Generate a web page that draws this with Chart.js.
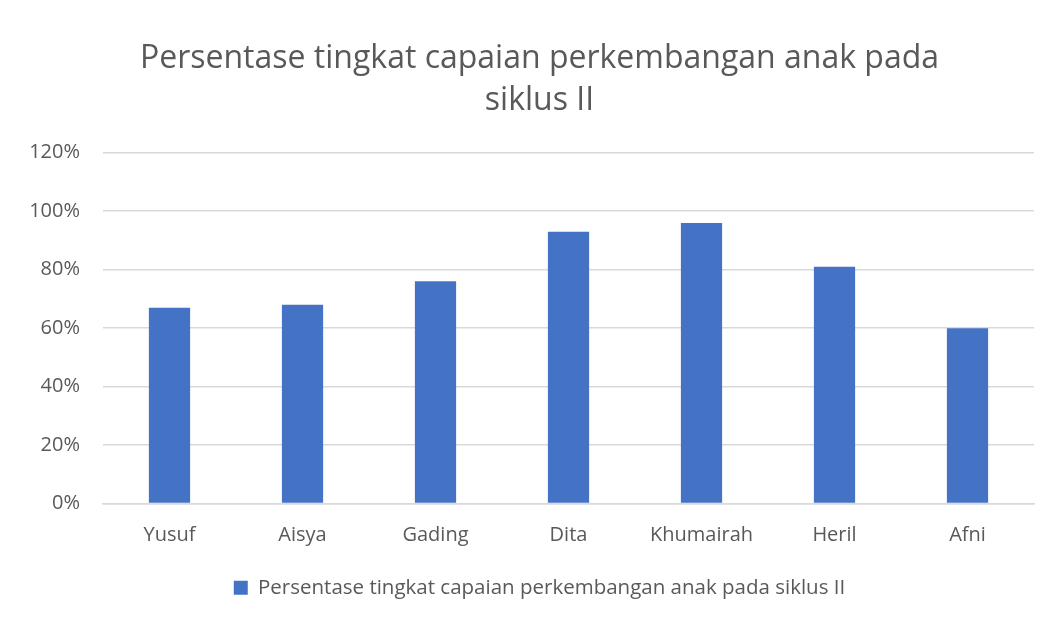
<!DOCTYPE html>
<html>
<head>
<meta charset="utf-8">
<script src="https://cdn.jsdelivr.net/npm/chart.js@4/dist/chart.umd.min.js"></script>
<style>
  html, body { margin: 0; padding: 0; background: #fff; }
  #wrap { width: 1059px; height: 619px; }
</style>
</head>
<body>
<div id="wrap"><canvas id="bar-chart"></canvas></div>
<script>
const names = ["Yusuf", "Aisya", "Gading", "Dita", "Khumairah", "Heril", "Afni"];
const percentages = [67, 68, 76, 93, 96, 81, 60];
const seriesLabel = "Persentase tingkat capaian perkembangan anak pada siklus II";
const titleLines = ["Persentase tingkat capaian perkembangan anak pada", "siklus II"];

const textGray = "#595959";
const gridGray = "#d9d9d9";

const chart = new Chart(document.getElementById("bar-chart"), {
  type: "bar",
  data: {
    labels: names,
    datasets: [
      {
        label: seriesLabel,
        data: percentages,
        backgroundColor: "#4472c4",
        borderWidth: 0,
        categoryPercentage: 1,
        barPercentage: 0.31,
      },
    ],
  },
  options: {
    responsive: true,
    maintainAspectRatio: false,
    animation: false,
    layout: {
      padding: { left: 20, right: 0, top: 37, bottom: 11 },
    },
    scales: {
      y: {
        min: 0,
        max: 120,
        ticks: {
          stepSize: 20,
          color: textGray,
          padding: 23,
          font: { family: "Open Sans", size: 20 },
          callback: (v) => v + "%",
        },
        grid: { color: gridGray, lineWidth: 1.5, drawTicks: false },
        border: { display: false },
        afterFit(scale) {
          // keep the plot's left edge at x = 103
          scale.width = 83;
        },
      },
      // empty axis on the right, only reserves margin
      yRight: {
        position: "right",
        min: 0,
        max: 120,
        ticks: { display: false },
        grid: { display: false, drawTicks: false },
        border: { display: false },
        afterFit(scale) {
          scale.width = 25;
        },
      },
      x: {
        ticks: {
          color: textGray,
          padding: 20,
          font: { family: "Open Sans", size: 20 },
        },
        grid: { display: false, drawTicks: false },
        border: { color: gridGray, width: 1.5 },
        afterFit(scale) {
          scale.height = 64;
        },
      },
    },
    plugins: {
      title: {
        display: true,
        text: titleLines,
        color: textGray,
        font: { family: "Open Sans", size: 32, weight: "normal", lineHeight: 1.34 },
        padding: { top: 0, bottom: 30 },
      },
      legend: {
        display: true,
        position: "bottom",
        labels: {
          color: textGray,
          font: { family: "Open Sans", size: 20.5 },
          boxWidth: 14,
          boxHeight: 14,
          padding: 10,
        },
      },
      tooltip: { enabled: false },
    },
  },
});
</script>
</body>
</html>
